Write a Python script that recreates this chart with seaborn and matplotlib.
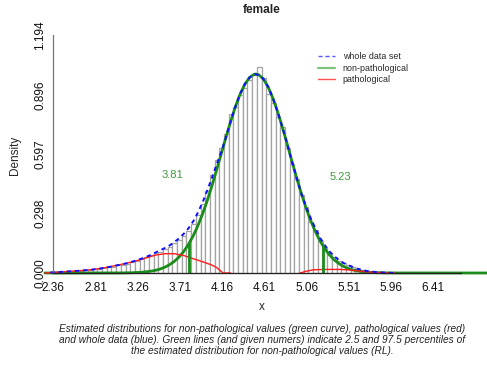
import numpy as np
import matplotlib
matplotlib.use("Agg")
import matplotlib.pyplot as plt
from matplotlib.lines import Line2D
import seaborn as sns

# ---------------- data ----------------
bin_edges = [round(v, 2) for v in np.arange(2.33, 5.9301, 0.05)]
bar_density = [
    0.003, 0.004, 0.006, 0.007, 0.009, 0.010, 0.012, 0.013, 0.015, 0.018,
    0.021, 0.024, 0.033, 0.030, 0.038, 0.042, 0.046, 0.055, 0.060, 0.070,
    0.078, 0.088, 0.098, 0.108, 0.120, 0.133, 0.150, 0.168, 0.188, 0.212,
    0.248, 0.292, 0.345, 0.410, 0.490, 0.568, 0.630, 0.700, 0.800, 0.835,
    0.893, 0.930, 0.968, 0.995, 1.034, 0.980, 0.900, 0.855, 0.785, 0.735,
    0.630, 0.550, 0.470, 0.390, 0.330, 0.255, 0.215, 0.160, 0.125, 0.100,
    0.080, 0.060, 0.050, 0.038, 0.028, 0.020, 0.014, 0.010, 0.007, 0.005,
    0.003, 0.0015,
]

# whole data set density (blue, dashed)
whole_x = [2.33, 2.355, 2.405, 2.455, 2.505, 2.555, 2.605, 2.655, 2.705, 2.755,
           2.805, 2.855, 2.905, 2.955, 3.005, 3.055, 3.105, 3.155, 3.205, 3.255,
           3.305, 3.355, 3.405, 3.455, 3.505, 3.555, 3.605, 3.655, 3.705, 3.755,
           3.805, 3.855, 3.905, 3.955, 4.005, 4.055, 4.105, 4.155, 4.205, 4.255,
           4.305, 4.355, 4.405, 4.455, 4.505, 4.555, 4.605, 4.655, 4.705, 4.755,
           4.805, 4.855, 4.905, 4.955, 5.005, 5.055, 5.105, 5.155, 5.205, 5.255,
           5.305, 5.355, 5.405, 5.455, 5.505, 5.555, 5.605, 5.655, 5.705, 5.755,
           5.805, 5.855, 5.905, 5.955, 6.02]
whole_y = [0.002, 0.003, 0.0045, 0.006, 0.0075, 0.009, 0.0105, 0.012, 0.014, 0.016,
           0.019, 0.022, 0.026, 0.030, 0.035, 0.040, 0.045, 0.050, 0.0575, 0.0645,
           0.073, 0.082, 0.092, 0.104, 0.115, 0.127, 0.140, 0.157, 0.176, 0.199,
           0.227, 0.262, 0.307, 0.359, 0.419, 0.484, 0.551, 0.614, 0.689, 0.768,
           0.841, 0.903, 0.952, 0.984, 0.999, 0.995, 0.972, 0.931, 0.874, 0.805,
           0.728, 0.645, 0.560, 0.477, 0.399, 0.334, 0.275, 0.223, 0.176, 0.139,
           0.108, 0.084, 0.065, 0.050, 0.039, 0.029, 0.021, 0.015, 0.010, 0.007,
           0.005, 0.003, 0.0015, 0.0008, 0.0]

# non-pathological density (green)
nonpath_x = [2.27, 3.0, 3.1, 3.2, 3.3, 3.4, 3.45, 3.5, 3.55, 3.6, 3.65, 3.7, 3.75,
             3.8, 3.85, 3.9, 3.95, 4.0, 4.05, 4.1, 4.15, 4.2, 4.25, 4.3, 4.35,
             4.4, 4.45, 4.5, 4.52, 4.55, 4.6, 4.65, 4.7, 4.75, 4.8, 4.85, 4.9,
             4.95, 5.0, 5.05, 5.1, 5.15, 5.2, 5.25, 5.3, 5.35, 5.4, 5.45, 5.5,
             5.55, 5.6, 5.7, 5.8, 5.9, 6.0, 6.98]
nonpath_y = [0.0, 0.0003, 0.0005, 0.0014, 0.0038, 0.009, 0.0136, 0.0201, 0.0293,
             0.042, 0.0584, 0.080, 0.108, 0.143, 0.1855, 0.236, 0.2955, 0.362,
             0.4364, 0.516, 0.598, 0.681, 0.7606, 0.834, 0.897, 0.947, 0.9818,
             0.998, 1.0, 0.996, 0.975, 0.935, 0.880, 0.812, 0.736, 0.654, 0.568,
             0.485, 0.406, 0.333, 0.268, 0.212, 0.164, 0.125, 0.093, 0.068,
             0.049, 0.034, 0.0235, 0.016, 0.0105, 0.0045, 0.0018, 0.0007,
             0.0002, 0.0]

# pathological density (red), two pieces
path_left_x = [2.27, 2.36, 2.45, 2.55, 2.65, 2.75, 2.85, 2.95, 3.05, 3.15, 3.25,
               3.35, 3.45, 3.55, 3.65, 3.75, 3.85, 3.95, 4.05, 4.10, 4.15, 4.17,
               4.25]
path_left_y = [0.0, 0.003, 0.006, 0.009, 0.012, 0.016, 0.022, 0.030, 0.040, 0.050,
               0.062, 0.076, 0.090, 0.097, 0.097, 0.088, 0.072, 0.057, 0.040,
               0.028, 0.008, 0.0, 0.0]
path_right_x = [4.99, 5.05, 5.13, 5.25, 5.40, 5.50, 5.60, 5.70, 5.80, 5.90, 6.00]
path_right_y = [0.0, 0.008, 0.016, 0.018, 0.018, 0.016, 0.011, 0.006, 0.003,
                0.001, 0.0]

# reference limits (2.5 / 97.5 percentiles) and curve height there
rl_limits = [3.81, 5.23]
rl_density = [0.155, 0.139]
rl_labels = ["3.81", "5.23"]
rl_label_pos_x = [3.625, 5.42]
rl_label_pos_y = [0.49, 0.48]

x_ticks = [round(v, 2) for v in np.arange(2.36, 6.7101, 0.15)]
x_tick_labels = ["2.36", "2.81", "3.26", "3.71", "4.16", "4.61", "5.06", "5.51",
                 "5.96", "6.41"]
y_ticks = [0.0, 0.2985, 0.597, 0.8955, 1.194]
y_tick_labels = ["0.000", "0.298", "0.597", "0.896", "1.194"]

title = "female"
legend_labels = ["whole data set", "non-pathological", "pathological"]
caption = ("Estimated distributions for non-pathological values (green curve), pathological values (red)\n"
           "and whole data (blue). Green lines (and given numers) indicate 2.5 and 97.5 percentiles of\n"
           "the estimated distribution for non-pathological values (RL).")

# ---------------- style ----------------
sns.set_style("white")
plt.rcParams["font.family"] = ["Liberation Sans", "DejaVu Sans"]

GREEN = "#1a8c1a"
BLUE = "#1010ff"
RED = "#ff1a1a"

W, H = 487, 365
fig = plt.figure(figsize=(W / 100, H / 100), dpi=100)
ax_left, ax_right, ax_top, ax_bottom = 40, 487, 30, 280
ax = fig.add_axes([ax_left / W, 1 - ax_bottom / H, (ax_right - ax_left) / W,
                   (ax_bottom - ax_top) / H])

bin_centers = [(a + b) / 2 for a, b in zip(bin_edges[:-1], bin_edges[1:])]
sns.histplot(x=bin_centers, weights=bar_density, bins=bin_edges, stat="count",
             color="white", edgecolor="#a3a3a3", linewidth=0.9, alpha=1.0, ax=ax)

sns.lineplot(x=nonpath_x, y=nonpath_y, color=GREEN, linewidth=2.0, ax=ax,
             estimator=None, sort=False)
sns.lineplot(x=path_left_x, y=path_left_y, color=RED, linewidth=1.0, ax=ax,
             estimator=None, sort=False)
sns.lineplot(x=path_right_x, y=path_right_y, color=RED, linewidth=1.0, ax=ax,
             estimator=None, sort=False)
sns.lineplot(x=whole_x, y=whole_y, color=BLUE, linewidth=1.4, ax=ax,
             estimator=None, sort=False, linestyle=(0, (2.2, 2.0)))

ax.vlines(rl_limits, 0, rl_density, color=GREEN, linewidth=2.0)
for lx, ly, lab in zip(rl_label_pos_x, rl_label_pos_y, rl_labels):
    ax.text(lx, ly, lab, color="#3a9a3a", fontsize=8.0, ha="center", va="center")

ax.set_xlim(2.36 - (53.3 - ax_left) / 93.8, 2.36 + (ax_right - 53.3) / 93.8)
ax.set_ylim(-(ax_bottom - 273) / 199, (273 - ax_top) / 199)

ax.set_xticks(x_ticks)
labs = []
j = 0
for i in range(len(x_ticks)):
    if i % 3 == 0 and j < len(x_tick_labels):
        labs.append(x_tick_labels[j]); j += 1
    else:
        labs.append("")
ax.set_xticklabels(labs)
ax.set_yticks(y_ticks)
ax.set_yticklabels(y_tick_labels)

for s in ["top", "right"]:
    ax.spines[s].set_visible(False)
ax.spines["left"].set_position(("data", 2.36))
ax.spines["left"].set_bounds(0, 1.194)
ax.spines["left"].set_color("#777777")
ax.spines["bottom"].set_position(("data", 0))
ax.spines["bottom"].set_bounds(2.36, 6.71)
ax.spines["bottom"].set_color("#222222")
for sp in ["left", "bottom"]:
    ax.spines[sp].set_linewidth(0.9)
ax.tick_params(axis="x", direction="out", length=3, width=0.8, colors="#222222",
               labelsize=8.5, pad=3.5, labelcolor="#111111")
ax.tick_params(axis="y", direction="out", length=3, width=0.8, colors="#777777",
               labelsize=8.5, pad=2, labelcolor="#111111", labelrotation=90)
for t in ax.get_yticklabels():
    t.set_verticalalignment("center")
ax.set_xlabel("")
ax.set_ylabel("")

fig.text(262 / W, 1 - 10 / H, title, ha="center", va="center",
         fontsize=8.6, fontweight="bold")
fig.text(262 / W, 1 - 307 / H, "x", ha="center", va="center", fontsize=8.5)
fig.text(15 / W, 1 - 155 / H, "Density", ha="center", va="center",
         fontsize=8.5, rotation=90)
fig.text(262 / W, 1 - 340 / H, caption, ha="center", va="center",
         fontsize=7.3, style="italic", linespacing=1.12, color="#222222")

handles = [Line2D([0], [0], color="#5a5aff", lw=1.0, linestyle=(0, (3, 2))),
           Line2D([0], [0], color="#7cc47c", lw=1.6),
           Line2D([0], [0], color="#ff5050", lw=1.0)]
fig.legend(handles, legend_labels, loc="upper left",
           bbox_to_anchor=(318 / W, 1 - 52 / H), frameon=False, fontsize=6.4,
           handlelength=1.9, handletextpad=0.9, labelspacing=0.3,
           borderpad=0, borderaxespad=0)

fig.savefig("out.png", dpi=100)
